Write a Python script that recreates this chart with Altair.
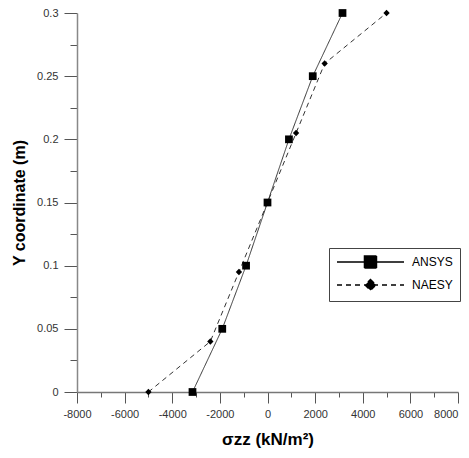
import altair as alt
import pandas as pd

series_names = ["ANSYS", "NAESY"]
ansys_x = [-3150, -1900, -900, 0, 900, 1900, 3150]
ansys_y = [0.0, 0.05, 0.1, 0.15, 0.2, 0.25, 0.3]
naesy_x = [-5000, -2400, -1200, 0, 1200, 2400, 5000]
naesy_y = [0.0, 0.04, 0.095, 0.15, 0.205, 0.26, 0.3]
x_ticks = list(range(-8000, 8001, 1000))
y_ticks = [round(i * 0.025, 3) for i in range(13)]

rows = []
for i, (x, y) in enumerate(zip(ansys_x, ansys_y)):
    rows.append({"series": "ANSYS", "x": x, "y": y, "order": i})
for i, (x, y) in enumerate(zip(naesy_x, naesy_y)):
    rows.append({"series": "NAESY", "x": x, "y": y, "order": i})
df = pd.DataFrame(rows)

FONT = "Liberation Sans"

x_major = "abs(datum.value % 2000) < 0.5"
y_major = "abs(datum.value*20 - round(datum.value*20)) < 0.001"

x_axis = alt.Axis(
    values=x_ticks,
    labelExpr=f"{x_major} ? '' + datum.value : ''",
    tickSize={"condition": {"test": x_major, "value": 11}, "value": 5},
    labelAlign={"condition": {"test": "datum.value >= 8000", "value": "right"}, "value": "center"},
    labelPadding=5,
    labelFlush=False,
    labelOverlap=False,
    grid=False,
    domainColor="#777",
    domainWidth=1.5,
    tickColor="#555",
    labelColor="#333",
    labelFont=FONT,
    labelFontSize=11,
    title="σzz (kN/m²)",
    titleFont=FONT,
    titleFontSize=17,
    titleFontWeight="bold",
    titleColor="black",
    titlePadding=12,
)
y_axis = alt.Axis(
    values=y_ticks,
    labelExpr=f"{y_major} ? '' + datum.value : ''",
    tickSize={"condition": {"test": y_major, "value": 13}, "value": 7},
    labelPadding=6,
    labelFlush=False,
    labelOverlap=False,
    grid=False,
    domainColor="#888",
    domainWidth=1.5,
    tickColor="#555",
    labelColor="#333",
    labelFont=FONT,
    labelFontSize=11,
    title="Y coordinate (m)",
    titleFont=FONT,
    titleFontSize=16,
    titleFontWeight="bold",
    titleColor="black",
    titlePadding=9,
)

xs = alt.X("x:Q", scale=alt.Scale(domain=[-8000, 8000], nice=False, zero=False), axis=x_axis)
ys = alt.Y("y:Q", scale=alt.Scale(domain=[0, 0.3], nice=False), axis=y_axis)

base = alt.Chart(df)

lines = base.mark_line(color="#333", strokeWidth=1).encode(
    x=xs, y=ys, order="order:Q",
    detail="series:N",
    strokeDash=alt.StrokeDash("series:N", scale=alt.Scale(domain=series_names, range=[[1, 0], [5, 4]]), legend=None),
)

points = base.mark_point(filled=True, opacity=1, color="black").encode(
    x=xs, y=ys,
    shape=alt.Shape("series:N", scale=alt.Scale(domain=series_names, range=["square", "diamond"]), legend=None),
    size=alt.Size("series:N", scale=alt.Scale(domain=series_names, range=[60, 40]), legend=None),
)

sq_path = "M-1,0H10.17M3.58,-1H5.58V1H3.58Z"
dm_path = "M-1,0H10.17M4.58,-0.9L5.48,0L4.58,0.9L3.68,0Z"

legend_layer = base.transform_filter("datum.y < -1").mark_point(
    filled=True, opacity=1, fill="black", stroke="black", strokeWidth=1, size=144
).encode(
    x=xs, y=ys,
    shape=alt.Shape("series:N", scale=alt.Scale(domain=series_names, range=[sq_path, dm_path]),
                    legend=alt.Legend(title=None)),
    strokeDash=alt.StrokeDash("series:N", scale=alt.Scale(domain=series_names, range=[[1, 0], [5, 4]]),
                              legend=alt.Legend(title=None)),
)

chart = alt.layer(lines, points, legend_layer).resolve_scale(
    shape="independent", strokeDash="independent", size="independent"
).properties(
    width=381,
    height=379,
    autosize=alt.AutoSizeParams(type="none"),
    padding={"left": 69, "top": 5, "right": 3, "bottom": 56},
).configure_view(stroke=None).configure_legend(
    orient="none",
    legendX=252,
    legendY=235,
    padding=7,
    fillColor="white",
    strokeColor="#444",
    rowPadding=5,
    labelOffset=62,
    labelFont=FONT,
    labelFontSize=12,
    labelColor="black",
    symbolSize=144,
)

chart.save("out.html", embed_options={"renderer": "svg", "actions": False})
